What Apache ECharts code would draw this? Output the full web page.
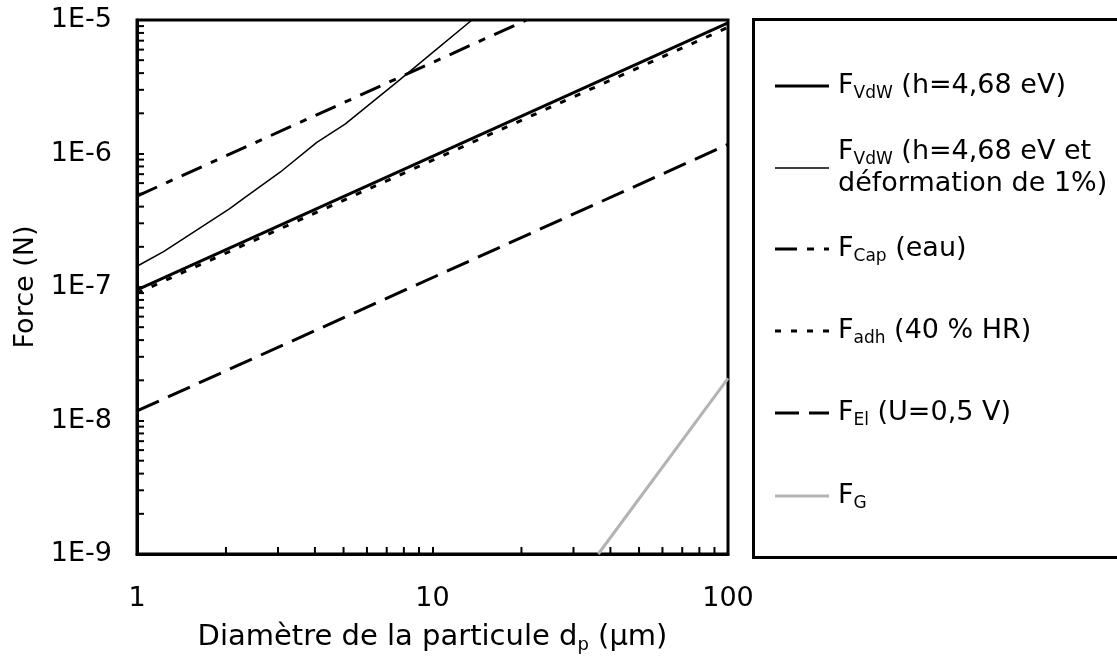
<!DOCTYPE html>
<html>
<head>
<meta charset="utf-8">
<script src="https://cdn.jsdelivr.net/npm/echarts@6/dist/echarts.min.js"></script>
<style>
  html, body { margin: 0; padding: 0; background: #fff; }
  #chart { width: 1117px; height: 659px; }
</style>
</head>
<body>
<div id="chart"></div>
<script>
// Particle diameter (µm) and force (N) for each adhesion / removal force
const vdwD = [1, 100];
const vdwF = [9.5e-8, 9.5e-6];

const vdwDefD = [1, 1.23, 2.06, 2.29, 3.05, 4.06, 5.06, 7.76, 10, 13.6];
const vdwDefF = [1.43e-7, 1.84e-7, 3.87e-7, 4.6e-7, 7.24e-7, 1.21e-6, 1.66e-6, 3.58e-6, 5.7e-6, 1.0e-5];

const capD = [1, 20.8];
const capF = [4.8e-7, 1.0e-5];

const adhD = [1, 100];
const adhF = [9.0e-8, 8.8e-6];

const elD = [1, 100];
const elF = [1.18e-8, 1.17e-6];

const gD = [36.4, 100];
const gF = [1.0e-9, 2.07e-8];

const xTickLabels = ['1', '10', '100'];
const yTickLabels = ['1E-9', '1E-8', '1E-7', '1E-6', '1E-5'];

// minor (2..9) tick positions on both logarithmic axes
const xMinor = [];
for (let k = 0; k < 2; k++) for (let m = 2; m <= 9; m++) xMinor.push(m * Math.pow(10, k));
const yMinor = [];
for (let k = -9; k < -5; k++) for (let m = 2; m <= 9; m++) yMinor.push(+(m * Math.pow(10, k)).toPrecision(3));

const FONT = '"DejaVu Sans", Verdana, sans-serif';
const FS = 27;

const styles = [
  { name: 'vdw', color: '#000', width: 3, dash: 'solid' },
  { name: 'vdwDef', color: '#000', width: 1.5, dash: 'solid' },
  { name: 'cap', color: '#000', width: 3, dash: [22, 10, 7, 10] },
  { name: 'adh', color: '#000', width: 3, dash: [6, 10] },
  { name: 'el', color: '#000', width: 3, dash: [24, 10] },
  { name: 'g', color: '#b3b3b3', width: 3, dash: 'solid' }
];

function pairs(xs, ys) { return xs.map((x, i) => [x, ys[i]]); }

function lineSeries(st, xs, ys) {
  return {
    type: 'line',
    name: st.name,
    data: pairs(xs, ys),
    showSymbol: false,
    symbol: 'none',
    smooth: false,
    silent: true,
    lineStyle: { color: st.color, width: st.width, type: st.dash, cap: 'butt' },
    z: 3
  };
}

function tickSeries(values, onX) {
  return {
    type: 'custom',
    silent: true,
    data: values.map(v => onX ? [v, 1e-9] : [1, v]),
    renderItem: function (params, api) {
      const p = api.coord([api.value(0), api.value(1)]);
      const shape = onX
        ? { x1: p[0], y1: p[1], x2: p[0], y2: p[1] - 7 }
        : { x1: p[0], y1: p[1], x2: p[0] + 7, y2: p[1] };
      return { type: 'line', shape: shape, style: { stroke: '#000', lineWidth: 2 } };
    },
    z: 4
  };
}

const mainRich = {
  m: { fontFamily: FONT, fontSize: FS, color: '#000', lineHeight: 32 },
  s: { fontFamily: FONT, fontSize: 17, color: '#000', lineHeight: 22, verticalAlign: 'bottom' }
};

const titleRich = {
  m: { fontFamily: FONT, fontSize: 29, color: '#000', lineHeight: 34 },
  s: { fontFamily: FONT, fontSize: 18, color: '#000', lineHeight: 23, verticalAlign: 'bottom' }
};

// legend box on the right
const legendItems = [
  { y: 86, text: '{m|F}{s|VdW}{m| (h=4,68 eV)}' },
  { y: 168, text: '{m|F}{s|VdW}{m| (h=4,68 eV et}\n{m|déformation de 1%)}' },
  { y: 249, text: '{m|F}{s|Cap}{m| (eau)}' },
  { y: 331, text: '{m|F}{s|adh}{m| (40 % HR)}' },
  { y: 413, text: '{m|F}{s|El}{m| (U=0,5 V)}' },
  { y: 496, text: '{m|F}{s|G}' }
];

const graphics = [{
  type: 'rect',
  shape: { x: 753.5, y: 19.5, width: 420, height: 538 },
  style: { fill: '#fff', stroke: '#000', lineWidth: 3 },
  z: 1
}];
legendItems.forEach((it, i) => {
  const st = styles[i];
  graphics.push({
    type: 'line',
    shape: { x1: 775, y1: it.y, x2: 829, y2: it.y },
    style: {
      stroke: st.color, lineWidth: st.width,
      lineDash: Array.isArray(st.dash) ? st.dash : null, lineCap: 'butt'
    },
    z: 2
  });
  graphics.push({
    type: 'text',
    x: 838, y: it.y,
    style: { text: it.text, rich: mainRich, verticalAlign: 'middle', align: 'left' },
    z: 2
  });
});

const chart = echarts.init(document.getElementById('chart'), null, { renderer: 'canvas' });
chart.setOption({
  animation: false,
  backgroundColor: '#fff',
  grid: {
    left: 137, top: 20, right: 389, bottom: 101,
    show: true, borderColor: '#000', borderWidth: 3, backgroundColor: 'transparent'
  },
  xAxis: {
    type: 'log', logBase: 10, min: 1, max: 100,
    name: '{m|Diamètre de la particule d}{s|p}{m| (µm)}',
    nameLocation: 'middle', nameGap: 66,
    nameTextStyle: { rich: titleRich },
    axisLine: { lineStyle: { color: '#000', width: 3 } },
    axisTick: { show: true, inside: true, length: 7, lineStyle: { color: '#000', width: 2 } },
    axisLabel: {
      margin: 31, fontFamily: FONT, fontSize: FS, color: '#000',
      formatter: v => xTickLabels[Math.round(Math.log10(v))]
    },
    splitLine: { show: false },
    minorTick: { show: false }
  },
  yAxis: {
    type: 'log', logBase: 10, min: 1e-9, max: 1e-5,
    name: 'Force (N)',
    nameLocation: 'middle', nameGap: 91, nameRotate: 90,
    nameTextStyle: { fontFamily: FONT, fontSize: FS, color: '#000' },
    axisLine: { lineStyle: { color: '#000', width: 3 } },
    axisTick: { show: true, inside: true, length: 7, lineStyle: { color: '#000', width: 2 } },
    axisLabel: {
      margin: 25, fontFamily: FONT, fontSize: FS, color: '#000',
      formatter: v => yTickLabels[Math.round(Math.log10(v)) + 9]
    },
    splitLine: { show: false }
  },
  graphic: graphics,
  series: [
    lineSeries(styles[0], vdwD, vdwF),
    lineSeries(styles[1], vdwDefD, vdwDefF),
    lineSeries(styles[2], capD, capF),
    lineSeries(styles[3], adhD, adhF),
    lineSeries(styles[4], elD, elF),
    lineSeries(styles[5], gD, gF),
    tickSeries(xMinor, true),
    tickSeries(yMinor, false)
  ]
});
</script>
</body>
</html>
